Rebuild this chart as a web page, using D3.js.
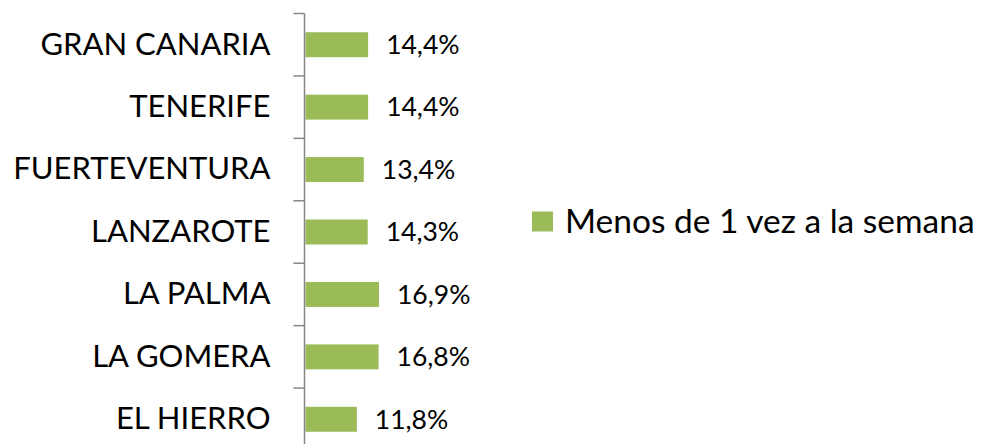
<!DOCTYPE html>
<html>
<head>
<meta charset="utf-8">
<script src="https://cdn.jsdelivr.net/npm/d3@7"></script>
<style>
  body { margin: 0; background: #fff; }
  svg { display: block; font-family: Lato, "Open Sans", sans-serif; }
</style>
</head>
<body>
<svg id="chart"></svg>
<script>
// data
const islands = ['GRAN CANARIA', 'TENERIFE', 'FUERTEVENTURA', 'LANZAROTE', 'LA PALMA', 'LA GOMERA', 'EL HIERRO'];
const values = [14.4, 14.4, 13.4, 14.3, 16.9, 16.8, 11.8];
const seriesName = 'Menos de 1 vez a la semana';

const width = 981, height = 444;
const margin = {top: 13.5, left: 304.5};
const innerHeight = 437;
const barColor = '#9bbb59';

const svg = d3.select('#chart')
    .attr('width', width)
    .attr('height', height);

const chart = svg.append('g')
    .attr('transform', `translate(${margin.left}, ${margin.top})`);

const xscale = d3.scaleLinear()
    .domain([0, 20])
    .range([0, 87]);

// band scale for the category slots (ticks sit on slot edges)
const yslot = d3.scaleBand()
    .domain(islands)
    .range([0, innerHeight])
    .padding(0);

const ybar = d3.scaleBand()
    .domain(islands)
    .range([0, innerHeight])
    .paddingInner(0.6)
    .paddingOuter(0.3);

const data = islands.map((d, i) => ({island: d, value: values[i]}));

// bars
chart.selectAll('rect.bar')
    .data(data)
    .join('rect')
    .attr('class', 'bar')
    .attr('x', 1)
    .attr('y', d => ybar(d.island))
    .attr('width', d => xscale(d.value))
    .attr('height', ybar.bandwidth())
    .attr('fill', barColor);

// value labels
chart.selectAll('text.val')
    .data(data)
    .join('text')
    .attr('class', 'val')
    .attr('x', d => xscale(d.value) + 19)
    .attr('y', d => ybar(d.island) + ybar.bandwidth() / 2)
    .attr('dy', '0.35em')
    .style('font-size', '26.5px')
    .attr('fill', '#000')
    .text(d => d.value.toFixed(1).replace('.', ',') + '%');

// axis with labels only
const yaxis = d3.axisLeft(yslot)
    .tickSize(0)
    .tickPadding(34);

const yaxis_group = chart.append('g').call(yaxis);
yaxis_group.select('.domain').remove();
yaxis_group.selectAll('text')
    .style('font-size', '31px')
    .style('font-family', 'Lato, "Open Sans", sans-serif')
    .attr('fill', '#000');

// axis line and boundary ticks
chart.append('line')
    .attr('x1', 0).attr('x2', 0)
    .attr('y1', 0).attr('y2', innerHeight)
    .attr('stroke', '#868686')
    .attr('stroke-width', 1.5);

chart.selectAll('line.tick')
    .data(islands)
    .join('line')
    .attr('class', 'tick')
    .attr('x1', -11).attr('x2', 0)
    .attr('y1', d => yslot(d))
    .attr('y2', d => yslot(d))
    .attr('stroke', '#868686')
    .attr('stroke-width', 1.5);

// legend
const legend = svg.append('g')
    .attr('transform', 'translate(532, 211.5)');

legend.append('rect')
    .attr('width', 21)
    .attr('height', 20)
    .attr('fill', barColor);

legend.append('text')
    .attr('x', 33)
    .attr('y', 10)
    .attr('dy', '0.35em')
    .style('font-size', '33.5px')
    .attr('fill', '#000')
    .text(seriesName);
</script>
</body>
</html>
